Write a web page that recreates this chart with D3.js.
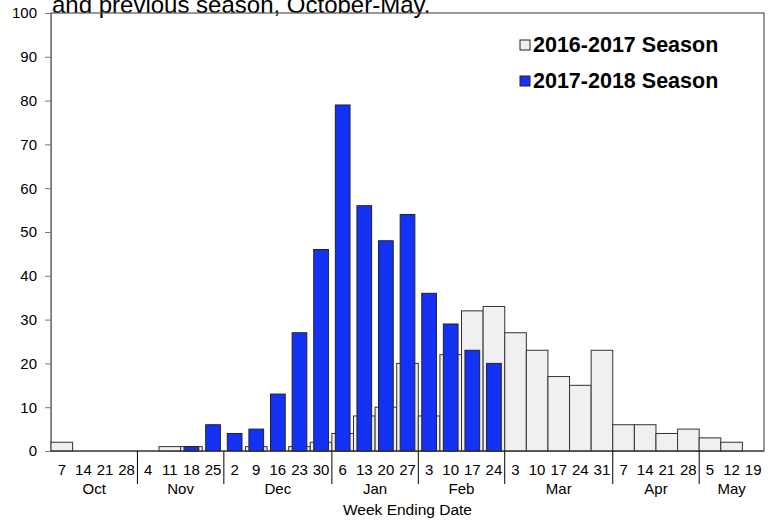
<!DOCTYPE html>
<html>
<head>
<meta charset="utf-8">
<script src="https://cdn.jsdelivr.net/npm/d3@7"></script>
<style>
  body { margin: 0; background: #fff; }
  svg text { font-family: Arial, "Liberation Sans", sans-serif; fill: #000; }
</style>
</head>
<body>
<div id="chart"></div>
<script>
// week ending day numbers, Oct - May
var days = [7,14,21,28, 4,11,18,25, 2,9,16,23,30, 6,13,20,27, 3,10,17,24, 3,10,17,24,31, 7,14,21,28, 5,12,19];
var monthNames = ["Oct","Nov","Dec","Jan","Feb","Mar","Apr","May"];
var monthWeeks = [4,4,5,4,4,5,4,3];
var season1617 = [2,0,0,0, 0,1,1,0, 0,1,0,1,2, 4,8,10,20, 8,22,32,33, 27,23,17,15,23, 6,6,4,5, 3,2,0];
var season1718 = [0,0,0,0, 0,0,1,6, 4,5,13,27,46, 79,56,48,54, 36,29,23,20];
var yTicks = [0,10,20,30,40,50,60,70,80,90,100];

var W = 770, H = 521;
var pLeft = 51, pRight = 764, pTop = 13, pBottom = 451;

var svg = d3.select("#chart").append("svg")
            .attr("width", W)
            .attr("height", H);

var x = d3.scaleBand()
          .domain(d3.range(days.length))
          .range([pLeft, pRight])
          .padding(0);

var y = d3.scaleLinear()
          .domain([0, 100])
          .range([pBottom, pTop]);

// title fragment (clipped at top)
svg.append("text")
   .attr("x", 52)
   .attr("y", 13)
   .style("font-size", "24px")
   .text("and previous season, October-May.");

// frame
svg.append("rect")
   .attr("x", pLeft)
   .attr("y", pTop)
   .attr("width", pRight - pLeft)
   .attr("height", pBottom - pTop)
   .attr("fill", "none")
   .attr("stroke", "#555")
   .attr("stroke-width", 1.2);

// y axis
var yAxis = d3.axisLeft(y).tickValues(yTicks).tickSize(6).tickPadding(8);
var gy = svg.append("g")
            .attr("transform", "translate(" + pLeft + ",0)")
            .call(yAxis);
gy.select(".domain").attr("stroke", "#777");
gy.selectAll(".tick line").attr("stroke", "#777");
gy.selectAll(".tick text").style("font-size", "15px").attr("fill", "#000");

// bars 2016-2017 (full width, behind)
svg.append("g").selectAll("rect")
   .data(season1617.map(function (v, i) { return {i: i, v: v}; }).filter(function (d) { return d.v > 0; }))
   .enter()
   .append("rect")
   .attr("x", function (d) { return x(d.i); })
   .attr("y", function (d) { return y(d.v); })
   .attr("width", x.bandwidth())
   .attr("height", function (d) { return pBottom - y(d.v); })
   .attr("fill", "#f0f0f0")
   .attr("stroke", "#333")
   .attr("stroke-width", 1);

// bars 2017-2018 (narrow, in front)
var bw = x.bandwidth() * 0.68;
svg.append("g").selectAll("rect")
   .data(season1718.map(function (v, i) { return {i: i, v: v}; }).filter(function (d) { return d.v > 0; }))
   .enter()
   .append("rect")
   .attr("x", function (d) { return x(d.i) + (x.bandwidth() - bw) / 2; })
   .attr("y", function (d) { return y(d.v); })
   .attr("width", bw)
   .attr("height", function (d) { return pBottom - y(d.v); })
   .attr("fill", "#1432f5")
   .attr("stroke", "#222")
   .attr("stroke-width", 1);

// bottom axis line
svg.append("line")
   .attr("x1", pLeft).attr("x2", pRight)
   .attr("y1", pBottom).attr("y2", pBottom)
   .attr("stroke", "#333");

// day labels
svg.append("g").selectAll("text")
   .data(days)
   .enter()
   .append("text")
   .attr("x", function (d, i) { return x(i) + x.bandwidth() / 2; })
   .attr("y", 475)
   .attr("text-anchor", "middle")
   .style("font-size", "15px")
   .text(function (d) { return d; });

// months: separators and names
var starts = [];
var acc = 0;
monthWeeks.forEach(function (n) { starts.push(acc); acc += n; });

svg.append("g").selectAll("line")
   .data(starts.slice(1))
   .enter()
   .append("line")
   .attr("x1", function (s) { return x(s); })
   .attr("x2", function (s) { return x(s); })
   .attr("y1", pBottom)
   .attr("y2", 484)
   .attr("stroke", "#000")
   .attr("stroke-width", 1);

svg.append("g").selectAll("text")
   .data(monthNames)
   .enter()
   .append("text")
   .attr("x", function (m, i) {
     var a = x(starts[i]);
     var b = x(starts[i] + monthWeeks[i] - 1) + x.bandwidth();
     return (a + b) / 2;
   })
   .attr("y", 494)
   .attr("text-anchor", "middle")
   .style("font-size", "15px")
   .text(function (m) { return m; });

svg.append("text")
   .attr("x", (pLeft + pRight) / 2)
   .attr("y", 515)
   .attr("text-anchor", "middle")
   .style("font-size", "15.5px")
   .text("Week Ending Date");

// legend
var legend = [
  {label: "2016-2017 Season", fill: "#f0f0f0", y: 52},
  {label: "2017-2018 Season", fill: "#1432f5", y: 88}
];
var lg = svg.append("g").selectAll("g")
            .data(legend)
            .enter()
            .append("g");
lg.append("rect")
  .attr("x", 520)
  .attr("y", function (d) { return d.y - 12; })
  .attr("width", 10)
  .attr("height", 10)
  .attr("fill", function (d) { return d.fill; })
  .attr("stroke", "#222");
lg.append("text")
  .attr("x", 533)
  .attr("y", function (d) { return d.y; })
  .style("font-size", "21.5px")
  .style("font-weight", "bold")
  .text(function (d) { return d.label; });
</script>
</body>
</html>
